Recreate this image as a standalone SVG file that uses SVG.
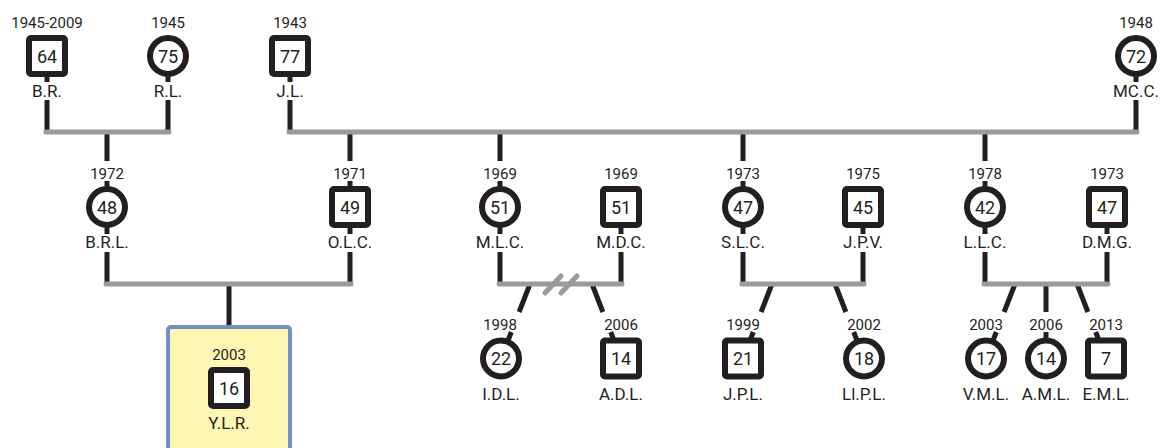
<svg xmlns="http://www.w3.org/2000/svg" width="1161" height="448" viewBox="0 0 1161 448">
<style>
text{font-family:Roboto,"Liberation Sans",sans-serif;fill:#231f20;text-anchor:middle}
.yr{font-size:15px}
.nm{font-size:17px}
.num{font-size:18px}
.f{fill:#fff;stroke:#231f20;stroke-width:6}
.ln{fill:none;stroke:#231f20;stroke-width:5}
.bar{fill:none;stroke:#999a9c;stroke-width:5;stroke-linecap:round}
</style>
<rect width="1161" height="448" fill="#fff"/>
<g id="connectors">
<path class="ln" d="M47,56V82M47,100V132M168,56V82M168,100V132M290,56V82M290,100V132M1136,56V82M1136,100V132"/>
<path class="ln" d="M107,132V161M107,181V207M350,132V161M350,181V207M500,132V161M500,181V207M743,132V161M743,181V207M985,132V161M985,181V207"/>
<path class="ln" d="M107,207V234M107,252V284M350,207V234M350,252V284M500,207V234M500,252V284M621,207V234M621,252V284M743,207V234M743,252V284M863,207V234M863,252V284M985,207V234M985,252V284M1107,207V234M1107,252V284"/>
<path class="ln" d="M229,284V328"/>
<path class="ln" d="M530,284L519.1,312M511.3,332L501,358.5M592,284L602.9,312M610.7,332L621,358.5M772,284L761.1,312M753.3,332L743,358.5M835,284L845.9,312M853.7,332L864,358.5M1015,284L1004.1,312M996.3,332L986,358.5M1046,284V312M1046,332V358.5M1077,284L1087.9,312M1095.7,332L1106,358.5"/>
<path class="bar" d="M46,132H169M289,132H1137M106,284H351M499,284H622M742,284H864M984,284H1108"/>
<path class="bar" d="M545,293L561,276M561,293L577,276"/>
</g>
<g id="n-br"><rect class="f" x="29" y="38" width="36" height="36" rx="2"/><text class="yr" x="47" y="28">1945-2009</text><text class="num" x="47" y="62.5">64</text><text class="nm" x="47" y="97">B.R.</text></g>
<g id="n-rl"><circle class="f" cx="168" cy="56" r="18"/><text class="yr" x="168" y="28">1945</text><text class="num" x="168" y="62.5">75</text><text class="nm" x="168" y="97">R.L.</text></g>
<g id="n-jl"><rect class="f" x="272" y="38" width="36" height="36" rx="2"/><text class="yr" x="290" y="28">1943</text><text class="num" x="290" y="62.5">77</text><text class="nm" x="290" y="97">J.L.</text></g>
<g id="n-mcc"><circle class="f" cx="1136" cy="56" r="18"/><text class="yr" x="1136" y="28">1948</text><text class="num" x="1136" y="62.5">72</text><text class="nm" x="1136" y="97">MC.C.</text></g>
<g id="n-brl"><circle class="f" cx="107" cy="207" r="18"/><text class="yr" x="107" y="179">1972</text><text class="num" x="107" y="213.5">48</text><text class="nm" x="107" y="248">B.R.L.</text></g>
<g id="n-olc"><rect class="f" x="332" y="189" width="36" height="36" rx="2"/><text class="yr" x="350" y="179">1971</text><text class="num" x="350" y="213.5">49</text><text class="nm" x="350" y="248">O.L.C.</text></g>
<g id="n-mlc"><circle class="f" cx="500" cy="207" r="18"/><text class="yr" x="500" y="179">1969</text><text class="num" x="500" y="213.5">51</text><text class="nm" x="500" y="248">M.L.C.</text></g>
<g id="n-mdc"><rect class="f" x="603" y="189" width="36" height="36" rx="2"/><text class="yr" x="621" y="179">1969</text><text class="num" x="621" y="213.5">51</text><text class="nm" x="621" y="248">M.D.C.</text></g>
<g id="n-slc"><circle class="f" cx="743" cy="207" r="18"/><text class="yr" x="743" y="179">1973</text><text class="num" x="743" y="213.5">47</text><text class="nm" x="743" y="248">S.L.C.</text></g>
<g id="n-jpv"><rect class="f" x="845" y="189" width="36" height="36" rx="2"/><text class="yr" x="863" y="179">1975</text><text class="num" x="863" y="213.5">45</text><text class="nm" x="863" y="248">J.P.V.</text></g>
<g id="n-llc"><circle class="f" cx="985" cy="207" r="18"/><text class="yr" x="985" y="179">1978</text><text class="num" x="985" y="213.5">42</text><text class="nm" x="985" y="248">L.L.C.</text></g>
<g id="n-dmg"><rect class="f" x="1089" y="189" width="36" height="36" rx="2"/><text class="yr" x="1107" y="179">1973</text><text class="num" x="1107" y="213.5">47</text><text class="nm" x="1107" y="248">D.M.G.</text></g>
<g id="n-ylr"><rect x="168" y="327" width="122" height="140" rx="3" fill="#fff6b3" stroke="#7090cc" stroke-width="4"/><rect class="f" x="211" y="370" width="36" height="36" rx="2"/><text class="yr" x="229" y="360">2003</text><text class="num" x="229" y="394.5">16</text><text class="nm" x="229" y="429">Y.L.R.</text></g>
<g id="n-idl"><circle class="f" cx="501" cy="358.5" r="18"/><text class="yr" x="500" y="330">1998</text><text class="num" x="501" y="365">22</text><text class="nm" x="501" y="400">I.D.L.</text></g>
<g id="n-adl"><rect class="f" x="603" y="340.5" width="36" height="36" rx="2"/><text class="yr" x="621" y="330">2006</text><text class="num" x="621" y="365">14</text><text class="nm" x="621" y="400">A.D.L.</text></g>
<g id="n-jpl"><rect class="f" x="725" y="340.5" width="36" height="36" rx="2"/><text class="yr" x="743" y="330">1999</text><text class="num" x="743" y="365">21</text><text class="nm" x="743" y="400">J.P.L.</text></g>
<g id="n-llpl"><circle class="f" cx="864" cy="358.5" r="18"/><text class="yr" x="864" y="330">2002</text><text class="num" x="864" y="365">18</text><text class="nm" x="864" y="400">Ll.P.L.</text></g>
<g id="n-vml"><circle class="f" cx="986" cy="358.5" r="18"/><text class="yr" x="986" y="330">2003</text><text class="num" x="986" y="365">17</text><text class="nm" x="986" y="400">V.M.L.</text></g>
<g id="n-aml"><circle class="f" cx="1046" cy="358.5" r="18"/><text class="yr" x="1046" y="330">2006</text><text class="num" x="1046" y="365">14</text><text class="nm" x="1046" y="400">A.M.L.</text></g>
<g id="n-eml"><rect class="f" x="1088" y="340.5" width="36" height="36" rx="2"/><text class="yr" x="1106" y="330">2013</text><text class="num" x="1106" y="365">7</text><text class="nm" x="1106" y="400">E.M.L.</text></g>
</svg>
